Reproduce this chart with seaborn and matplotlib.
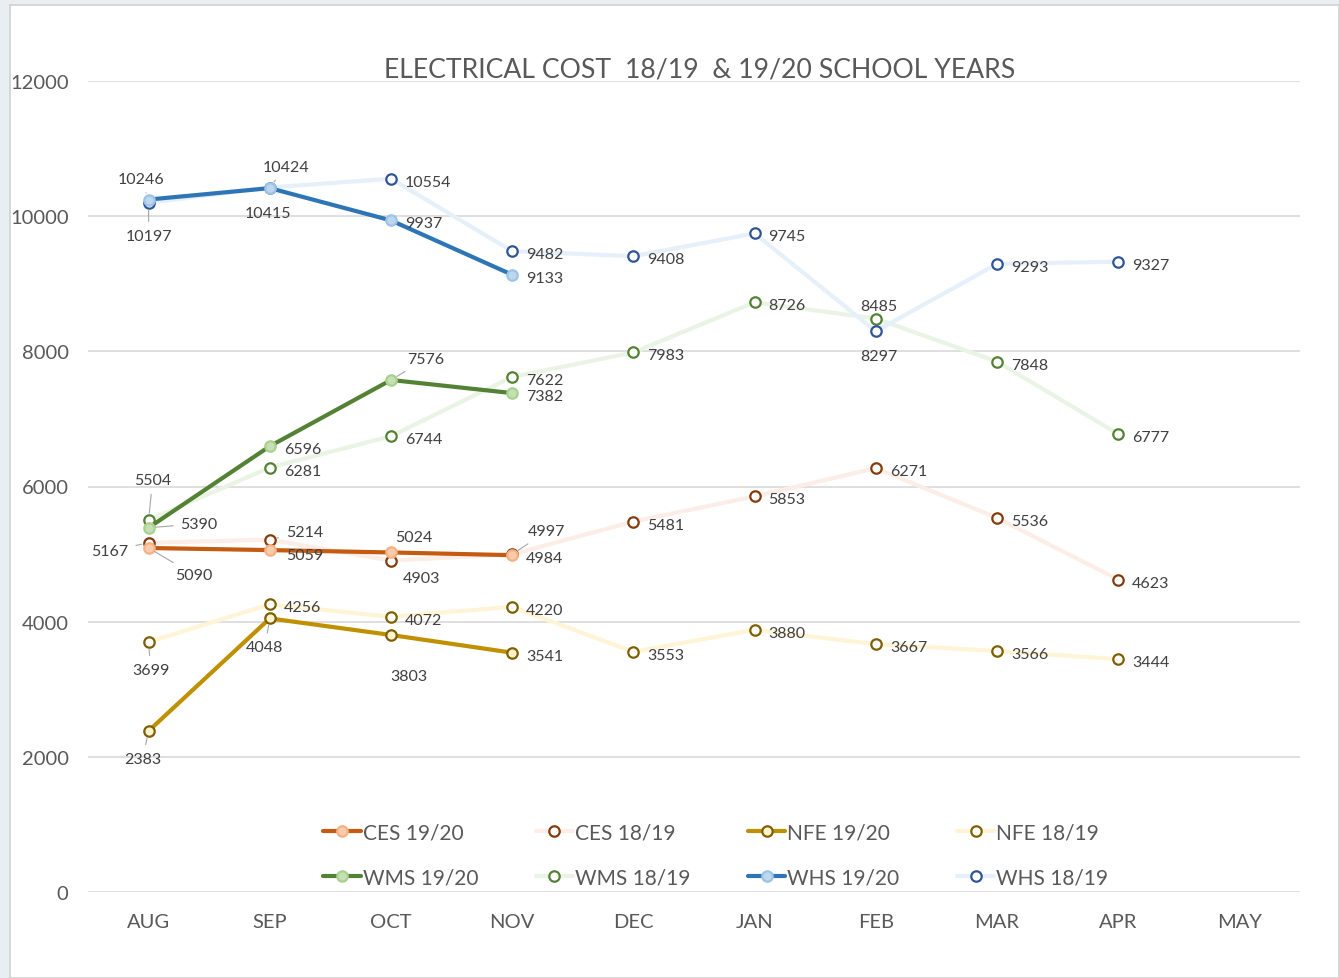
import numpy as np
import pandas as pd
import matplotlib.pyplot as plt
import seaborn as sns
from matplotlib.lines import Line2D
from matplotlib.patches import Rectangle

# Monthly electrical cost per school
months = ["AUG", "SEP", "OCT", "NOV", "DEC", "JAN", "FEB", "MAR", "APR", "MAY"]

ces_1920 = [5090, 5059, 5024, 4984]
ces_1819 = [5167, 5214, 4903, 4997, 5481, 5853, 6271, 5536, 4623]
nfe_1920 = [2383, 4048, 3803, 3541]
nfe_1819 = [3699, 4256, 4072, 4220, 3553, 3880, 3667, 3566, 3444]
wms_1920 = [5390, 6596, 7576, 7382]
wms_1819 = [5504, 6281, 6744, 7622, 7983, 8726, 8485, 7848, 6777]
whs_1920 = [10246, 10415, 9937, 9133]
whs_1819 = [10197, 10424, 10554, 9482, 9408, 9745, 8297, 9293, 9327]

series = {
    "CES 19/20": ces_1920, "CES 18/19": ces_1819,
    "NFE 19/20": nfe_1920, "NFE 18/19": nfe_1819,
    "WMS 19/20": wms_1920, "WMS 18/19": wms_1819,
    "WHS 19/20": whs_1920, "WHS 18/19": whs_1819,
}

rows = []
for name, vals in series.items():
    for i, v in enumerate(vals):
        rows.append({"series": name, "pos": i, "month": months[i], "cost": v})
df = pd.DataFrame(rows)

# line colour, line width, marker face, marker edge
styles = {
    "CES 19/20": ("#C55A11", 3.0, "#F8CBAD", "#F4B183"),
    "CES 18/19": ("#FCEEE6", 3.0, "white", "#843C0C"),
    "NFE 19/20": ("#BF9000", 3.0, "#FFF2CC", "#7F6000"),
    "NFE 18/19": ("#FFF4D6", 3.0, "white", "#7F6000"),
    "WMS 19/20": ("#548235", 3.0, "#C5E0B4", "#A9D18E"),
    "WMS 18/19": ("#EAF4E4", 3.0, "white", "#548235"),
    "WHS 19/20": ("#2E75B6", 3.0, "#BDD7EE", "#9DC3E6"),
    "WHS 18/19": ("#E6F0FA", 3.0, "white", "#2F5597"),
}

# label offsets in pixels (dx, dy, ha, leader line)
label_pos = {
    ("WHS 19/20", 0): (-8, 24, "center", True),
    ("WHS 18/19", 0): (0, -30, "center", True),
    ("WHS 18/19", 1): (16, 24, "center", True),
    ("WHS 19/20", 1): (-2, -22, "center", False),
    ("WHS 18/19", 7): (14, 0, "left", False),
    ("WMS 18/19", 0): (4, 43, "center", True),
    ("WMS 19/20", 0): (32, 7, "left", True),
    ("WMS 19/20", 2): (16, 24, "left", True),
    ("WMS 18/19", 6): (3, 16, "center", False),
    ("WHS 18/19", 6): (3, -22, "center", False),
    ("CES 18/19", 0): (-20, -5, "right", True),
    ("CES 19/20", 0): (27, -24, "left", True),
    ("CES 18/19", 1): (16, 11, "left", True),
    ("CES 19/20", 1): (16, -2, "left", False),
    ("CES 19/20", 2): (23, 18, "center", False),
    ("CES 18/19", 2): (30, -14, "center", False),
    ("CES 18/19", 3): (16, 26, "left", True),
    ("NFE 18/19", 0): (2, -25, "center", True),
    ("NFE 19/20", 0): (-6, -25, "center", True),
    ("NFE 19/20", 1): (-5, -26, "center", True),
    ("NFE 19/20", 2): (18, -38, "center", False),
}

sns.set_theme(style="white")
plt.rcParams["font.family"] = ["Lato", "DejaVu Sans"]

fig = plt.figure(figsize=(13.39, 9.79), dpi=100, facecolor="#E9EEF3")
fig.patches.append(Rectangle((10 / 1339, 0), 1 - 10 / 1339, 1 - 6 / 979,
                             transform=fig.transFigure, facecolor="white",
                             edgecolor="#D0D0D0", lw=1.2, zorder=-10))
ax = fig.add_axes([88 / 1339, 1 - 893 / 979, 1212 / 1339, 811 / 979])
ax.set_facecolor("none")

draw_order = ["CES 18/19", "NFE 18/19", "WMS 18/19", "WHS 18/19",
              "CES 19/20", "NFE 19/20", "WMS 19/20", "WHS 19/20"]
for k, name in enumerate(draw_order):
    lc, lw, mf, me = styles[name]
    sub = df[df["series"] == name]
    sns.lineplot(data=sub, x="pos", y="cost", ax=ax, color=lc, lw=lw,
                 marker="o", markersize=7.5, markerfacecolor=mf,
                 markeredgecolor=me, markeredgewidth=1.6, sort=False,
                 zorder=3 + k)

for name, vals in series.items():
    for i, v in enumerate(vals):
        dx, dy, ha, leader = label_pos.get((name, i), (14, 0, "left", False))
        kw = {}
        if leader:
            kw["arrowprops"] = dict(arrowstyle="-", color="#A6A6A6", lw=0.8,
                                    shrinkA=3, shrinkB=5)
        ax.annotate(str(v), (i, v), xytext=(dx, dy - 3), textcoords="offset pixels",
                    ha=ha, va="center", fontsize=11.5, color="#404040",
                    zorder=20, **kw)

ax.set_xlim(-0.5, len(months) - 0.5)
ax.set_ylim(0, 12000)
ax.set_xticks(range(len(months)))
ax.set_xticklabels(months)
ax.set_yticks(range(0, 12001, 2000))
ax.tick_params(axis="both", length=0, labelsize=14.5, labelcolor="#595959")
ax.tick_params(axis="x", pad=15)
ax.tick_params(axis="y", pad=14)
ax.grid(axis="y", color="#D9D9D9", lw=1.2)
ax.grid(axis="x", visible=False)
for s in ax.spines.values():
    s.set_visible(False)
ax.set_xlabel("")
ax.set_ylabel("")
ax.set_title("ELECTRICAL COST  18/19  & 19/20 SCHOOL YEARS", fontsize=19.2,
             color="#595959", pad=3, x=0.505)

# legend filled row-wise
handles = {}
for name in series:
    lc, lw, mf, me = styles[name]
    handles[name] = Line2D([], [], color=lc, lw=lw, marker="o", markersize=7.5,
                           markerfacecolor=mf, markeredgecolor=me,
                           markeredgewidth=1.6)
names = list(series)
order = [names[0], names[4], names[1], names[5], names[2], names[6], names[3], names[7]]
ax.legend([handles[n] for n in order], order, ncol=4, loc="lower center",
          bbox_to_anchor=(0.518, -0.017), frameon=False, fontsize=15,
          handlelength=1.8, handletextpad=0.1, columnspacing=2.75,
          labelspacing=1.2, labelcolor="#595959")

fig.savefig("out.png", dpi=100, facecolor=fig.get_facecolor())
